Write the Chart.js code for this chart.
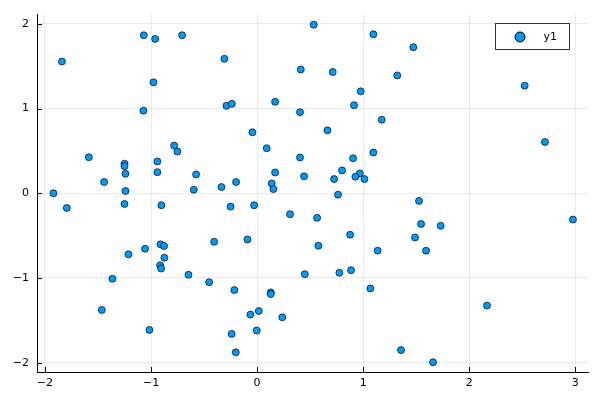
<!DOCTYPE html>
<html>
<head>
<meta charset="utf-8">
<script src="https://cdn.jsdelivr.net/npm/chart.js@4"></script>
<style>
  html, body { margin: 0; padding: 0; background: #fff; }
  #c { display: block; }
</style>
</head>
<body>
<canvas id="c" width="600" height="400"></canvas>
<script>
// valores
const xs = [
  -1.92, -1.84, -1.068, -0.961, -0.707, -0.308, -0.977, -1.072, -0.289, -0.238,
  -0.782, -0.751, -1.586, -1.25, -1.25, -1.241, -0.94, -0.94, -0.575, -1.442,
  -1.241, -0.597, -0.336, 0.534, 1.096, 1.473, 0.412, 0.713, 1.322, 0.977,
  0.17, 0.405, 0.914, 1.175, -0.044, 0.663, 0.091, 0.405, 0.905, 1.096,
  0.17, 0.443, 0.801, 0.726, 0.968, 0.927, 1.012, 0.138, 0.154, -0.198,
  0.763, 1.527, 2.523, 2.714, -1.794, -1.25, -0.902, -0.25, -0.911, -0.877,
  -0.405, -1.056, -1.213, -0.874, -0.914, -0.905, -0.647, -0.452, -1.364, -1.464,
  -1.015, -0.24, -0.028, 0.311, 0.566, 1.546, -0.091, 0.877, 0.578, 1.489,
  1.137, 0.45, 0.776, 0.886, -0.214, 0.129, 0.129, 1.068, 0.016, -0.063,
  0.238, -0.003, -0.201, 1.357, 1.731, 1.593, 2.978, 2.168, 1.659
];
const ys = [
  0.0, 1.556, 1.866, 1.823, 1.866, 1.588, 1.31, 0.976, 1.033, 1.056,
  0.563, 0.493, 0.426, 0.35, 0.32, 0.23, 0.376, 0.25, 0.223, 0.133,
  0.027, 0.042, 0.074, 1.991, 1.878, 1.725, 1.462, 1.432, 1.392, 1.204,
  1.08, 0.958, 1.04, 0.869, 0.72, 0.743, 0.532, 0.423, 0.414, 0.481,
  0.246, 0.2, 0.27, 0.168, 0.235, 0.195, 0.168, 0.117, 0.05, 0.133,
  -0.016, -0.09, 1.271, 0.606, -0.173, -0.126, -0.141, -0.157, -0.603, -0.622,
  -0.572, -0.654, -0.72, -0.76, -0.85, -0.888, -0.962, -1.049, -1.009, -1.378,
  -1.613, -1.66, -0.141, -0.246, -0.29, -0.362, -0.545, -0.489, -0.619, -0.521,
  -0.677, -0.955, -0.939, -0.908, -1.143, -1.17, -1.19, -1.123, -1.39, -1.432,
  -1.464, -1.62, -1.878, -1.851, -0.384, -0.677, -0.31, -1.326, -1.995
];
const xTicks = [-2, -1, 0, 1, 2, 3];
const yTicks = [-2, -1, 0, 1, 2];
const serieNombre = 'y1';

const AZUL = 'rgb(0,154,250)';
const fmt = v => (v < 0 ? '\u2212' + Math.abs(v) : String(v));

// ticks hacia dentro y leyenda al estilo Plots
const extras = {
  id: 'extras',
  afterDraw(chart) {
    const ctx = chart.ctx;
    const a = chart.chartArea;
    const sx = chart.scales.x, sy = chart.scales.y;
    ctx.save();
    ctx.strokeStyle = '#000';
    ctx.lineWidth = 1;
    xTicks.forEach(t => {
      const p = Math.round(sx.getPixelForValue(t)) + 0.5;
      ctx.beginPath(); ctx.moveTo(p, a.bottom); ctx.lineTo(p, a.bottom - 5); ctx.stroke();
    });
    yTicks.forEach(t => {
      const p = Math.round(sy.getPixelForValue(t)) + 0.5;
      ctx.beginPath(); ctx.moveTo(a.left, p); ctx.lineTo(a.left + 5, p); ctx.stroke();
    });
    // leyenda
    const lx = 495.5, ly = 23.5, lw = 74, lh = 26;
    ctx.fillStyle = '#fff';
    ctx.fillRect(lx, ly, lw, lh);
    ctx.strokeStyle = '#333';
    ctx.strokeRect(lx, ly, lw, lh);
    ctx.beginPath();
    ctx.arc(lx + 24.5, ly + 13.5, 5, 0, Math.PI * 2);
    ctx.fillStyle = AZUL; ctx.fill();
    ctx.strokeStyle = '#000'; ctx.stroke();
    ctx.fillStyle = '#000';
    ctx.font = '11px "DejaVu Sans"';
    ctx.textBaseline = 'middle';
    ctx.fillText(serieNombre, lx + 48, ly + 13.5);
    ctx.restore();
  }
};

new Chart(document.getElementById('c'), {
  type: 'scatter',
  data: {
    datasets: [{
      label: serieNombre,
      data: xs.map((x, i) => ({ x: x, y: ys[i] })),
      backgroundColor: AZUL,
      borderColor: 'rgba(0,0,0,0.85)',
      borderWidth: 0.8,
      pointRadius: 3.5,
      pointHoverRadius: 3.5
    }]
  },
  options: {
    responsive: false,
    animation: false,
    events: [],
    layout: { padding: { top: 12, right: 12, left: 0, bottom: 0 } },
    plugins: { legend: { display: false }, tooltip: { enabled: false } },
    scales: {
      x: {
        type: 'linear',
        min: -2.075, max: 3.12,
        afterBuildTicks: s => { s.ticks = xTicks.map(v => ({ value: v })); },
        afterFit: s => { s.height = 28; },
        grid: { color: 'rgba(0,0,0,0.08)', lineWidth: 1, drawTicks: false },
        border: { color: '#000', width: 1 },
        ticks: { padding: 5, color: '#000', font: { family: 'DejaVu Sans', size: 11 }, callback: fmt, maxRotation: 0 }
      },
      y: {
        type: 'linear',
        min: -2.11, max: 2.11,
        afterBuildTicks: s => { s.ticks = yTicks.map(v => ({ value: v })); },
        afterFit: s => { s.width = 37; },
        grid: { color: 'rgba(0,0,0,0.08)', lineWidth: 1, drawTicks: false },
        border: { color: '#000', width: 1 },
        ticks: { padding: 8, color: '#000', font: { family: 'DejaVu Sans', size: 11 }, callback: fmt }
      }
    }
  },
  plugins: [extras]
});
</script>
</body>
</html>
